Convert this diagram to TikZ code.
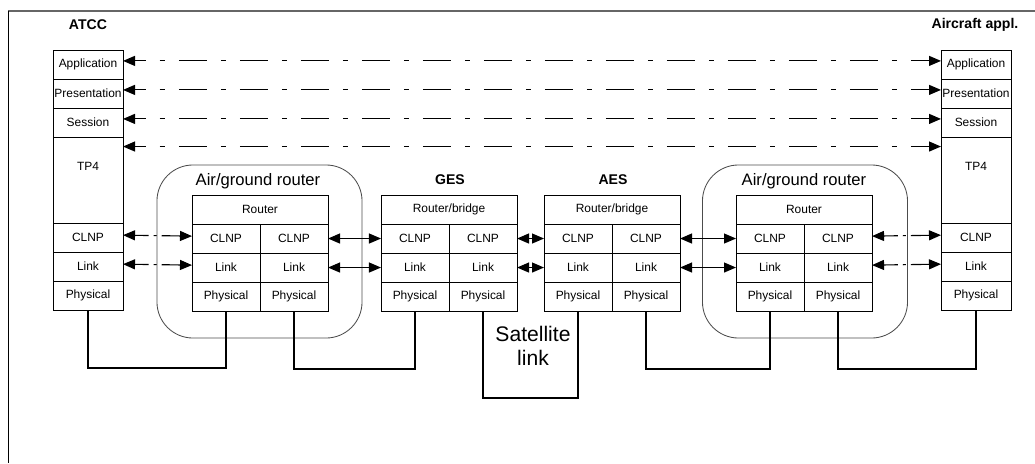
\documentclass[tikz,border=0pt]{standalone}
\usepackage{fontspec}
\setmainfont{Liberation Sans}
\usetikzlibrary{positioning,arrows.meta}
\tikzset{
  cell/.style={draw, line width=0.7pt, inner sep=0pt, outer sep=0pt, minimum width=1.75cm, minimum height=0.725cm, font=\fontsize{8.5}{10}\selectfont},
  half/.style={cell, minimum width=1.7cm},
  wide/.style={cell, minimum width=3.4cm},
  tag/.style={font=\bfseries\fontsize{10}{12}\selectfont},
  peer/.style={line width=0.8pt, {Triangle[length=0.3cm,width=0.25cm]}-{Triangle[length=0.3cm,width=0.25cm]}},
  longdash/.style={peer, dash pattern=on 0.7cm off 0.35cm on 0.125cm off 0.35cm, dash phase=0.425cm},
  shortdash/.style={peer, dash pattern=on 0.35cm off 0.125cm on 0.075cm off 0.125cm on 1cm off 1cm},
  phys/.style={line width=1.6pt},
  agbox/.style={draw=black!70, line width=0.6pt, rounded corners=0.9cm, minimum width=5.125cm, minimum height=4.325cm}
}
\begin{document}
\begin{tikzpicture}[x=0.025cm, y=-0.025cm]
  \useasboundingbox (0,0) rectangle (1035,463);
  \draw[black!60, line width=0.8pt] (8,11) -- (1035,11);
  \draw[line width=0.6pt] (8,11) -- (8,463);

  \node[agbox] (aglBox) at (259.5,251.5) {};
  \node[agbox] (agrBox) at (805,251.5) {};
  \node[font=\fontsize{11.8}{14}\selectfont] (aglName) at (258,181) {Air/ground router};
  \node[font=\fontsize{11.8}{14}\selectfont] (agrName) at (804,181) {Air/ground router};

  \node[tag] (atcc) at (88,25) {ATCC};
  \node[tag] (acft) at (975,25) {Aircraft appl.};
  \node[tag] (gesName) at (450,180) {GES};
  \node[tag] (aesName) at (613,180) {AES};

  \node[cell, anchor=north west] (lApp) at (53,50) {Application};
  \node[cell, below=0pt of lApp] (lPres) {Presentation};
  \node[cell, below=0pt of lPres] (lSes) {Session};
  \node[cell, below=0pt of lSes, minimum height=2.15cm] (lTp) {};
  \node[cell, below=0pt of lTp] (lClnp) {CLNP};
  \node[cell, below=0pt of lClnp] (lLink) {Link};
  \node[cell, below=0pt of lLink] (lPhy) {Physical};
  \node[font=\fontsize{8.5}{10}\selectfont] (lTpName) at ([yshift=-0.725cm]lTp.north) {TP4};

  \node[cell, anchor=north west] (rApp) at (941,50) {Application};
  \node[cell, below=0pt of rApp] (rPres) {Presentation};
  \node[cell, below=0pt of rPres] (rSes) {Session};
  \node[cell, below=0pt of rSes, minimum height=2.15cm] (rTp) {};
  \node[cell, below=0pt of rTp] (rClnp) {CLNP};
  \node[cell, below=0pt of rClnp] (rLink) {Link};
  \node[cell, below=0pt of rLink] (rPhy) {Physical};
  \node[font=\fontsize{8.5}{10}\selectfont] (rTpName) at ([yshift=-0.725cm]rTp.north) {TP4};

  \foreach \n/\x/\t in {agl/192/Router, ges/381/{Router/bridge}, aes/544/{Router/bridge}, agr/736/Router}{
    \node[wide, anchor=north west] (\n-top) at (\x,195) {\t};
    \node[half, anchor=north west] (\n-c1) at (\n-top.south west) {CLNP};
    \node[half, anchor=north east] (\n-c2) at (\n-top.south east) {CLNP};
    \node[half, anchor=north] (\n-l1) at (\n-c1.south) {Link};
    \node[half, anchor=north] (\n-l2) at (\n-c2.south) {Link};
    \node[half, anchor=north] (\n-p1) at (\n-l1.south) {Physical};
    \node[half, anchor=north] (\n-p2) at (\n-l2.south) {Physical};
  }

  \draw[longdash] ([yshift=0.09cm]lApp.east) -- ([yshift=0.09cm]rApp.west);
  \draw[longdash] ([yshift=0.09cm]lPres.east) -- ([yshift=0.09cm]rPres.west);
  \draw[longdash] ([yshift=0.09cm]lSes.east) -- ([yshift=0.09cm]rSes.west);
  \draw[longdash] ([yshift=-0.2375cm]lTp.north east) -- ([yshift=-0.2375cm]rTp.north west);

  \draw[shortdash] ([yshift=0.06cm]lClnp.east) -- ([yshift=0.06cm]agl-c1.west);
  \draw[shortdash] ([yshift=0.06cm]lLink.east) -- ([yshift=0.06cm]agl-l1.west);
  \draw[peer] (agl-c2.east) -- (ges-c1.west);
  \draw[peer] (agl-l2.east) -- (ges-l1.west);
  \draw[peer] (ges-c2.east) -- (aes-c1.west);
  \draw[peer] (ges-l2.east) -- (aes-l1.west);
  \draw[peer] (aes-c2.east) -- (agr-c1.west);
  \draw[peer] (aes-l2.east) -- (agr-l1.west);
  \draw[shortdash] ([yshift=0.06cm]agr-c2.east) -- ([yshift=0.06cm]rClnp.west);
  \draw[shortdash] ([yshift=0.06cm]agr-l2.east) -- ([yshift=0.06cm]rLink.west);

  \draw[phys] (lPhy.south) -- ++(0,58) -| (agl-p1.south);
  \draw[phys] (agl-p2.south) -- ++(0,58) -| (ges-p1.south);
  \draw[phys] (ges-p2.south) -- ++(0,87) -| (aes-p1.south);
  \draw[phys] (aes-p2.south) -- ++(0,58) -| (agr-p1.south);
  \draw[phys] (agr-p2.south) -- ++(0,58) -| (rPhy.south);

  \node[align=center, font=\fontsize{15}{17}\selectfont] (sat) at (533,346) {Satellite\\link};
\end{tikzpicture}
\end{document}
